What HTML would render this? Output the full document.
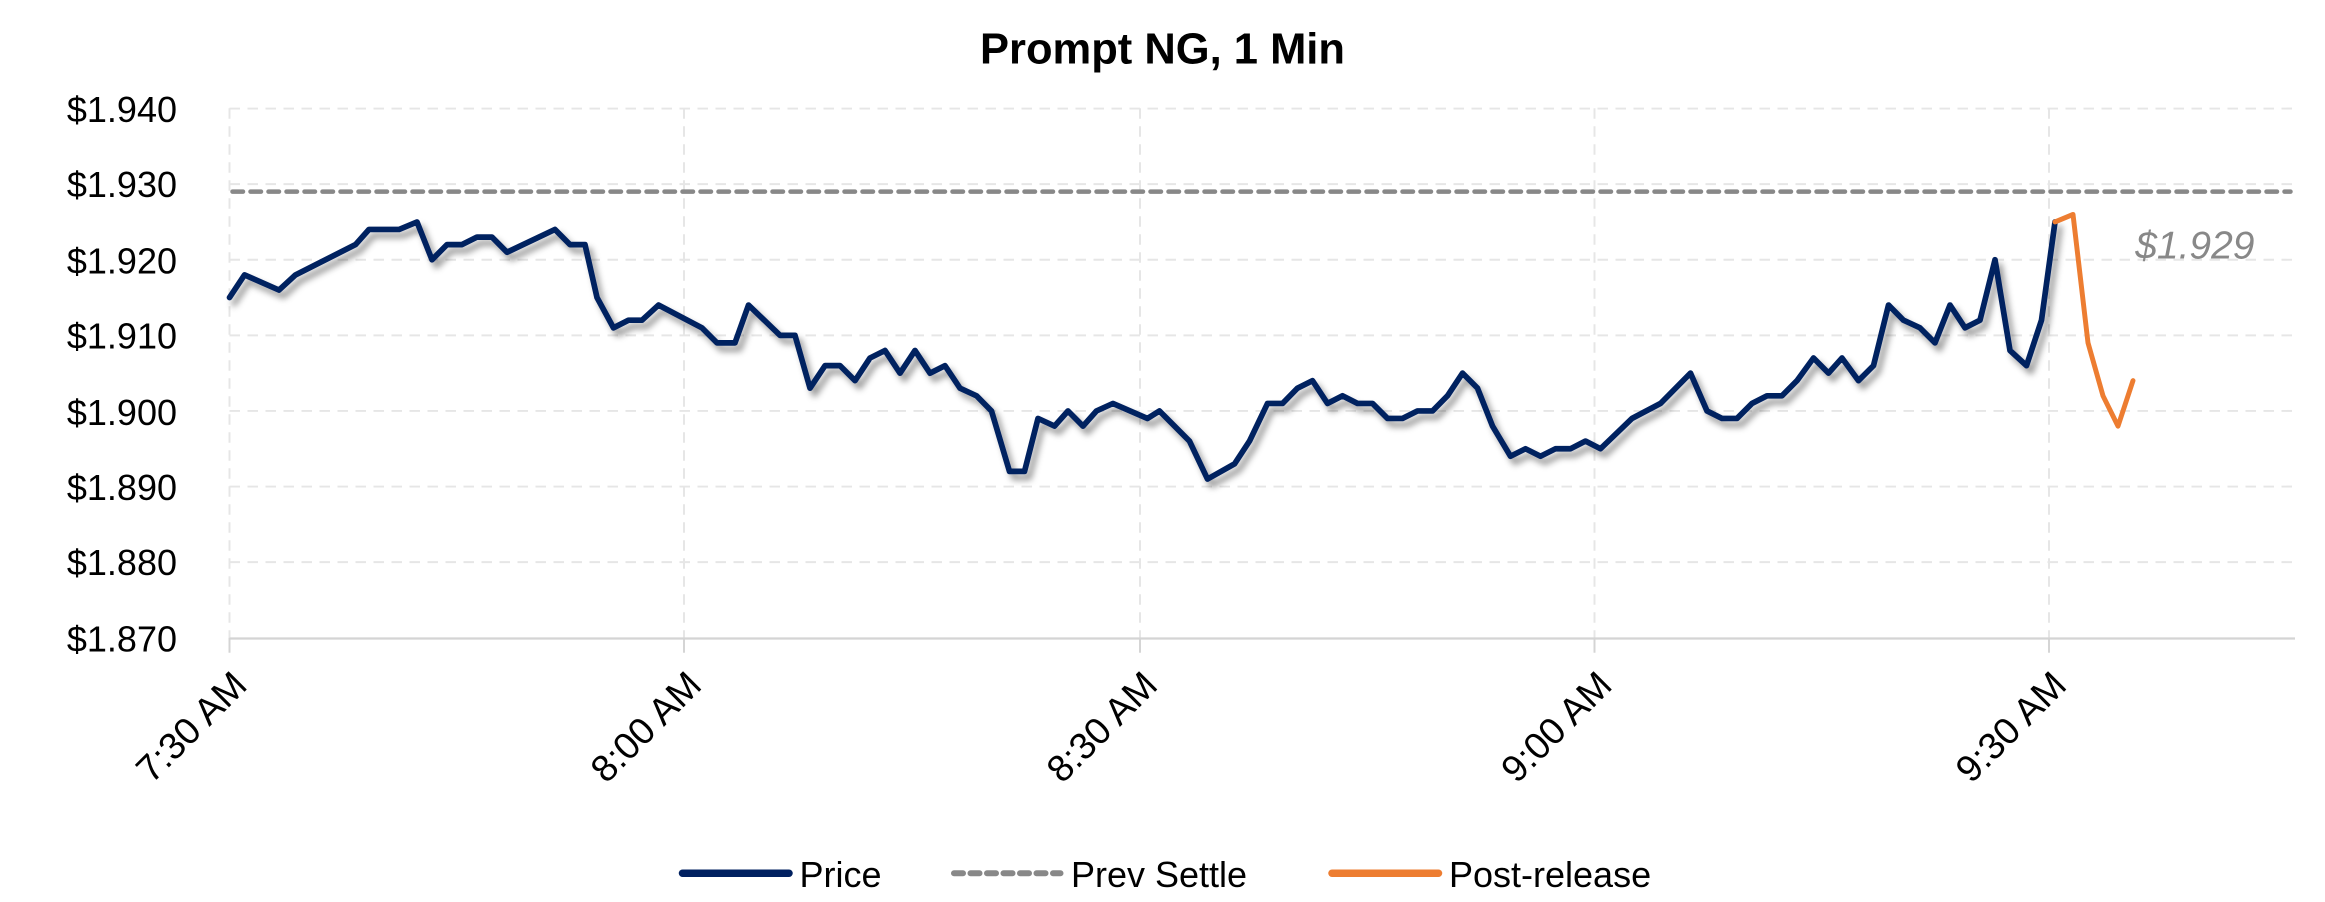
<!DOCTYPE html>
<html><head><meta charset="utf-8"><style>
html,body{margin:0;padding:0;background:#fff;}
svg{display:block;}
text{font-family:"Liberation Sans",sans-serif;}
</style></head><body>
<svg width="2325" height="902" viewBox="0 0 1550 601" xmlns="http://www.w3.org/2000/svg">
<defs>
<filter id="sh" x="-5%" y="-5%" width="110%" height="120%">
<feDropShadow dx="3" dy="4" stdDeviation="2.2" flood-color="#000" flood-opacity="0.4"/>
</filter>
</defs>
<text x="775" y="42" text-anchor="middle" font-size="29" font-weight="bold" fill="#000">Prompt NG, 1 Min</text>
<g stroke="#e6e6e6" stroke-width="1.3" stroke-dasharray="7,5" fill="none">
<line x1="153" y1="72.2" x2="1530" y2="72.2"/>
<line x1="153" y1="122.6" x2="1530" y2="122.6"/>
<line x1="153" y1="173" x2="1530" y2="173"/>
<line x1="153" y1="223.4" x2="1530" y2="223.4"/>
<line x1="153" y1="273.8" x2="1530" y2="273.8"/>
<line x1="153" y1="324.2" x2="1530" y2="324.2"/>
<line x1="153" y1="374.6" x2="1530" y2="374.6"/>
<line x1="153" y1="72" x2="153" y2="425"/>
<line x1="456" y1="72" x2="456" y2="425"/>
<line x1="760" y1="72" x2="760" y2="425"/>
<line x1="1063" y1="72" x2="1063" y2="425"/>
<line x1="1366" y1="72" x2="1366" y2="425"/>
</g>
<line x1="153" y1="425.5" x2="1530" y2="425.5" stroke="#d4d4d4" stroke-width="1.5"/>
<g stroke="#d4d4d4" stroke-width="1.3">
<line x1="153" y1="425" x2="153" y2="435"/><line x1="456" y1="425" x2="456" y2="435"/>
<line x1="760" y1="425" x2="760" y2="435"/><line x1="1063" y1="425" x2="1063" y2="435"/>
<line x1="1366" y1="425" x2="1366" y2="435"/>
</g>
<g font-size="24" fill="#000" text-anchor="end">
<text x="118" y="81">$1.940</text>
<text x="118" y="131">$1.930</text>
<text x="118" y="182">$1.920</text>
<text x="118" y="232">$1.910</text>
<text x="118" y="283">$1.900</text>
<text x="118" y="333">$1.890</text>
<text x="118" y="383">$1.880</text>
<text x="118" y="434">$1.870</text>
</g>
<g font-size="25" fill="#000" text-anchor="end">
<text transform="translate(166,458) rotate(-45)">7:30 AM</text>
<text transform="translate(469,458) rotate(-45)">8:00 AM</text>
<text transform="translate(773,458) rotate(-45)">8:30 AM</text>
<text transform="translate(1076,458) rotate(-45)">9:00 AM</text>
<text transform="translate(1379,458) rotate(-45)">9:30 AM</text>
</g>
<line x1="155" y1="127.6" x2="1527" y2="127.6" stroke="#888" stroke-width="3" stroke-dasharray="7,5" stroke-linecap="round"/>
<text x="1503" y="172" text-anchor="end" font-size="26" font-style="italic" fill="#888">$1.929</text>
<g fill="none" stroke-linejoin="round" stroke-linecap="round">
<polyline filter="url(#sh)" stroke="#002060" stroke-width="3.8" points="153,198.2 163,183.1 186,193.2 197,183.1 237,162.9 246,152.8 266,152.8 278,147.8 288,173 298,162.9 308,162.9 318,157.9 328,157.9 338,168 370,152.8 380,162.9 390,162.9 398,198.2 409,218.4 419,213.3 428,213.3 439,203.2 468,218.4 478,228.4 490,228.4 499,203.2 520,223.4 530,223.4 540,258.6 550,243.6 560,243.6 570,253.6 580,238.5 590,233.5 600,248.6 610,233.5 620,248.6 630,243.6 640,258.6 651,263.7 661,273.8 673,314.1 683,314.1 692,278.8 703,283.9 712,273.8 722,283.9 731,273.8 742,268.8 765,278.8 773,273.8 793,293.9 805,319.2 823,309.1 833,293.9 845,268.8 855,268.8 865,258.6 875,253.6 885,268.8 895,263.7 905,268.8 915,268.8 925,278.8 935,278.8 945,273.8 955,273.8 965,263.7 975,248.6 985,258.6 995,283.9 1007,304 1017,299 1027,304 1037,299 1047,299 1057,293.9 1067,299 1088,278.8 1107,268.8 1127,248.6 1138,273.8 1148,278.8 1158,278.8 1168,268.8 1178,263.7 1188,263.7 1198,253.6 1209,238.5 1219,248.6 1228,238.5 1239,253.6 1249,243.6 1259,203.2 1269,213.3 1280,218.4 1290,228.4 1300,203.2 1310,218.4 1320,213.3 1330,173 1340,233.5 1351,243.6 1361,213.3 1370,147.8"/>
<polyline stroke="#ED7D31" stroke-width="3.3" points="1370,147.8 1382,142.8 1392,228.4 1402,263.7 1412,283.9 1422,253.6"/>
</g>
<line x1="455" y1="582" x2="526" y2="582" stroke="#002060" stroke-width="5" stroke-linecap="round"/>
<text x="533" y="591" font-size="24">Price</text>
<line x1="636" y1="582" x2="707" y2="582" stroke="#888" stroke-width="4" stroke-dasharray="6,5" stroke-linecap="round"/>
<text x="714" y="591" font-size="24">Prev Settle</text>
<line x1="888" y1="582" x2="959" y2="582" stroke="#ED7D31" stroke-width="5" stroke-linecap="round"/>
<text x="966" y="591" font-size="24">Post-release</text>
</svg>
</body></html>
